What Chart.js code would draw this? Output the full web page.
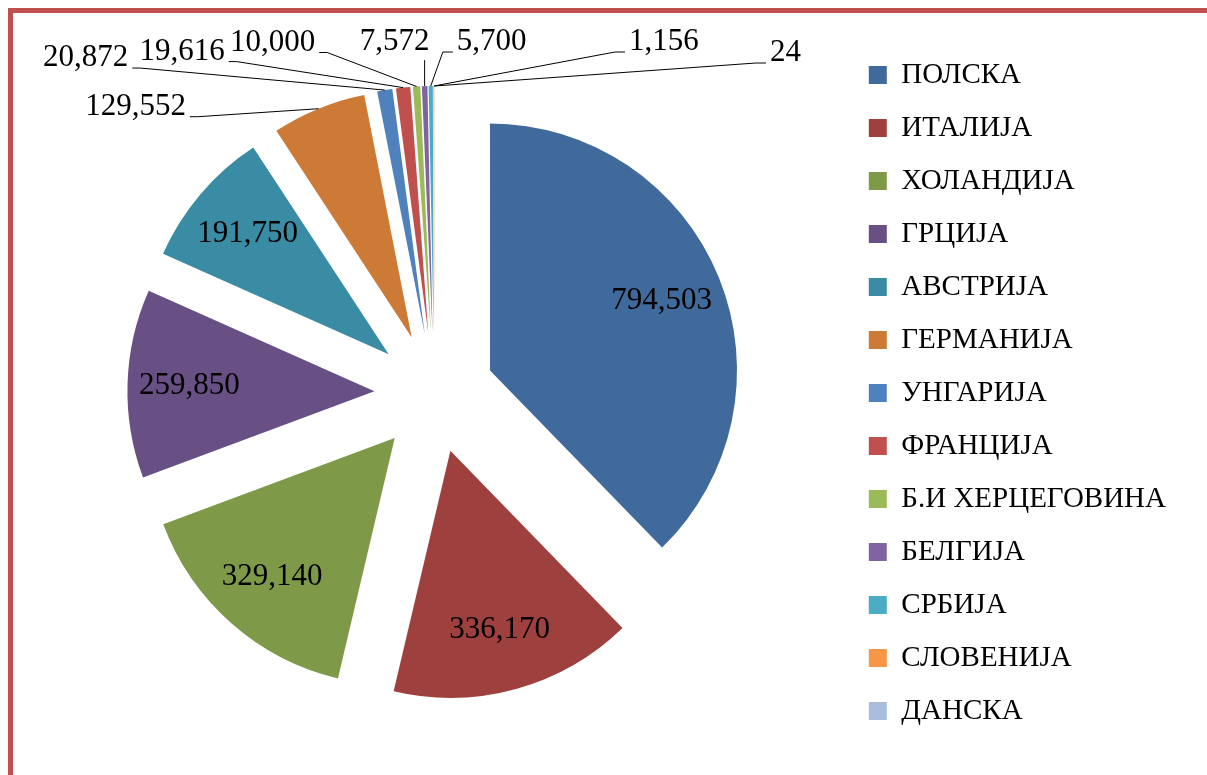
<!DOCTYPE html>
<html>
<head>
<meta charset="utf-8">
<script src="https://cdn.jsdelivr.net/npm/chart.js@4.4.1/dist/chart.umd.min.js"></script>
<style>
  html, body { margin: 0; padding: 0; background: #fff; overflow: hidden; }
  #frame {
    position: absolute; left: 8px; top: 8px; width: 1400px; height: 1000px;
    border-top: 5px solid #C0504D; border-left: 5px solid #C0504D;
  }
  #wrap { position: absolute; left: 0; top: 0; width: 1207px; height: 775px; }
</style>
</head>
<body>
<div id="frame"></div>
<div id="wrap"><canvas id="chart0"></canvas></div>
<script>
const countries = ['ПОЛСКА', 'ИТАЛИЈА', 'ХОЛАНДИЈА', 'ГРЦИЈА', 'АВСТРИЈА', 'ГЕРМАНИЈА',
    'УНГАРИЈА', 'ФРАНЦИЈА', 'Б.И ХЕРЦЕГОВИНА', 'БЕЛГИЈА', 'СРБИЈА', 'СЛОВЕНИЈА', 'ДАНСКА'];
const amounts = [794503, 336170, 329140, 259850, 191750, 129552,
    20872, 19616, 10000, 7572, 5700, 1156, 24];

const sliceColors = ['#416A9C', '#9E413E', '#7E9A48', '#684F84', '#3A8CA4', '#CC7A36',
    '#4F81BD', '#C0504D', '#9BBB59', '#8064A2', '#4BACC6', '#F79646', '#A9BCDC'];

const EXPLODE = 60;

// where the outside labels sit, relative to the slice's outer edge (null = label inside)
const outsideShift = [null, null, null, null, null, [-183, -2],
    [-299, -32], [-221, -36], [-144, -44], [-30, -44], [61, -44], [230, -44], [351, -33]];

function fmt(v) {
    return String(v).replace(/\B(?=(\d{3})+(?!\d))/g, ',');
}

// pull every slice out along its bisector (Chart.js offset also shrinks small slices)
const explode = {
    id: 'explode',
    afterDatasetUpdate(chart, args) {
        args.meta.data.forEach(arc => {
            const mid = (arc.startAngle + arc.endAngle) / 2;
            arc.x += Math.cos(mid) * EXPLODE;
            arc.y += Math.sin(mid) * EXPLODE;
        });
    }
};

const sliceLabels = {
    id: 'sliceLabels',
    afterDatasetsDraw(chart) {
        const ctx = chart.ctx;
        const meta = chart.getDatasetMeta(0);
        ctx.save();
        ctx.font = '31px "Liberation Serif", serif';
        ctx.fillStyle = '#000';
        ctx.strokeStyle = '#000';
        ctx.lineWidth = 1;
        ctx.textAlign = 'center';
        ctx.textBaseline = 'middle';
        meta.data.forEach((arc, i) => {
            const mid = (arc.startAngle + arc.endAngle) / 2;
            const c = Math.cos(mid), s = Math.sin(mid);
            const R = arc.outerRadius;
            const txt = fmt(amounts[i]);
            const shift = outsideShift[i];
            if (!shift) {
                ctx.fillText(txt, arc.x + c * 0.75 * R, arc.y + s * 0.75 * R);
                return;
            }
            const ax = arc.x + c * R, ay = arc.y + s * R;
            const cx = ax + shift[0], cy = ay + shift[1];
            const hw = ctx.measureText(txt).width / 2;
            ctx.fillText(txt, cx, cy);
            ctx.beginPath();
            if (ax >= cx - hw && ax <= cx + hw) {
                ctx.moveTo(ax, cy + 18);
            } else if (cx < ax) {
                ctx.moveTo(cx + hw + 4, cy + 10);
                ctx.lineTo(cx + hw + 12, cy + 10);
            } else {
                ctx.moveTo(cx - hw - 4, cy + 10);
                ctx.lineTo(cx - hw - 14, cy + 10);
            }
            ctx.lineTo(ax, ay);
            ctx.stroke();
        });
        ctx.restore();
    }
};

const chart = new Chart(document.getElementById('chart0').getContext('2d'), {
    type: 'pie',
    data: {
        labels: countries,
        datasets: [{
            data: amounts,
            backgroundColor: sliceColors,
            borderWidth: 0,
        }],
    },
    options: {
        responsive: true,
        maintainAspectRatio: false,
        animation: false,
        radius: 247,
        layout: {
            padding: { top: 11, bottom: 0, left: 24, right: 31 },
        },
        plugins: {
            tooltip: { enabled: false },
            legend: {
                position: 'right',
                labels: {
                    color: '#000',
                    boxWidth: 18,
                    boxHeight: 18,
                    padding: 24,
                    font: { family: '"Liberation Serif", serif', size: 29 },
                },
            },
        },
    },
    plugins: [explode, sliceLabels],
});
</script>
</body>
</html>
